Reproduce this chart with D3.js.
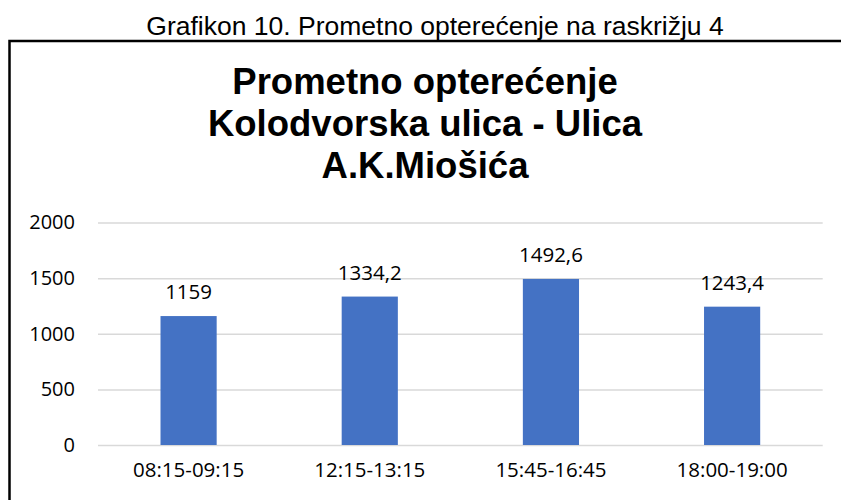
<!DOCTYPE html>
<html>
<head>
<meta charset="utf-8">
<script src="https://cdn.jsdelivr.net/npm/d3@7"></script>
<style>
  body { margin: 0; background: #fff; }
  svg { display: block; }
</style>
</head>
<body>
<div id="chart"></div>
<script>
// data
let periods = ["08:15-09:15", "12:15-13:15", "15:45-16:45", "18:00-19:00"];
let loads = [1159, 1334.2, 1492.6, 1243.4];
let yTicks = [0, 500, 1000, 1500, 2000];
let caption = "Grafikon 10. Prometno opterećenje na raskrižju 4";
let titleLines = ["Prometno opterećenje", "Kolodvorska ulica - Ulica", "A.K.Miošića"];

let w = 841;
let h = 500;

let viz = d3.select("#chart")
  .append("svg")
    .attr("width", w)
    .attr("height", h);

// caption above the frame
viz.append("text")
  .attr("x", 435)
  .attr("y", 35)
  .attr("text-anchor", "middle")
  .style("font-family", "'Liberation Sans', Arial, sans-serif")
  .style("font-size", "26.5px")
  .attr("fill", "#000")
  .text(caption);

// frame (only left and top show, rest runs off the page)
viz.append("path")
  .attr("d", "M9.5,500 L9.5,41 L841,41")
  .attr("fill", "none")
  .attr("stroke", "#000")
  .attr("stroke-width", 2.5);

// chart title
viz.append("g")
  .selectAll("text")
  .data(titleLines)
  .enter()
  .append("text")
    .attr("x", 425)
    .attr("y", (d, i) => 94 + i * 42)
    .attr("text-anchor", "middle")
    .style("font-family", "'Liberation Sans', Arial, sans-serif")
    .style("font-weight", "bold")
    .style("font-size", "36.5px")
    .attr("fill", "#000")
    .text(d => d);

///////////////////////////////////////////////////////////////////////
// scales

let xScale = d3.scaleBand()
  .domain(periods)
  .range([98, 822.7])
  .paddingInner(0.69)
  .paddingOuter(0.345);

let yScale = d3.scaleLinear()
  .domain([0, 2000])
  .range([445, 222.5]);

let labelFont = "'Open Sans', 'Noto Sans', sans-serif";

// gridlines
let yAxis = d3.axisLeft(yScale)
  .tickValues(yTicks)
  .tickSize(-(822.7 - 98))
  .tickPadding(23)
  .tickFormat(d3.format("d"));

let yAxisGroup = viz.append("g")
  .attr("transform", "translate(98,0)")
  .call(yAxis);

yAxisGroup.select(".domain").remove();
yAxisGroup.selectAll(".tick line")
  .attr("stroke", "#d9d9d9")
  .attr("stroke-width", 1.5);
yAxisGroup.selectAll(".tick text")
  .style("font-family", labelFont)
  .style("font-size", "20px")
  .attr("fill", "#000");

// x labels
let xAxis = d3.axisBottom(xScale).tickSize(0).tickPadding(17);

let xAxisGroup = viz.append("g")
  .attr("transform", "translate(0,445)")
  .call(xAxis);

xAxisGroup.select(".domain").remove();
xAxisGroup.selectAll(".tick text")
  .style("font-family", labelFont)
  .style("font-size", "20.5px")
  .attr("fill", "#000");

///////////////////////////////////////////////////////////////////////
// bars

let barGroup = viz.selectAll(".bar").data(loads)
  .enter()
  .append("g")
  .attr("class", "bar");

barGroup.append("rect")
  .attr("x", (d, i) => xScale(periods[i]))
  .attr("y", d => yScale(d))
  .attr("width", xScale.bandwidth())
  .attr("height", d => yScale(0) - yScale(d))
  .attr("fill", "#4472c4");

barGroup.append("text")
  .attr("x", (d, i) => xScale(periods[i]) + xScale.bandwidth() / 2)
  .attr("y", d => yScale(d) - 17)
  .attr("text-anchor", "middle")
  .style("font-family", labelFont)
  .style("font-size", "20.5px")
  .attr("fill", "#000")
  .text(d => String(d).replace(".", ","));
</script>
</body>
</html>
